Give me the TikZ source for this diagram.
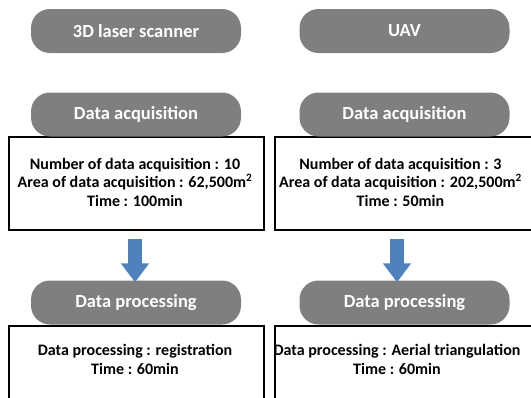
\documentclass[tikz,border=0pt]{standalone}
\usepackage{fontspec}
\setmainfont{Carlito}
\usetikzlibrary{arrows.meta}
\definecolor{pillgray}{RGB}{127,127,127}
\definecolor{arrowblue}{RGB}{79,129,189}
\tikzset{
  pill/.style={fill=pillgray, draw=none, rounded corners=19pt,
    minimum width=210pt, minimum height=44pt, inner sep=0pt,
    text=white, font=\bfseries\fontsize{18.5}{20}\selectfont},
  infobox/.style={draw=black, line width=1.2pt, fill=white, inner sep=0pt},
  infotext/.style={align=center, inner sep=0pt, text=black,
    font=\bfseries\fontsize{16}{18.5}\selectfont},
  flowarrow/.style={draw=arrowblue, line width=14pt,
    -{Triangle[width=27pt,length=19pt]}}
}
\begin{document}
\begin{tikzpicture}[x=1pt,y=-1pt]
\useasboundingbox (0,0) rectangle (531,397);
\clip (0,0) rectangle (531,397);

% info boxes (drawn first so the pills sit on their top edges)
\node[infobox, minimum width=255pt, minimum height=93pt] (acqL) at (136.5,183.5) {};
\node[infobox, minimum width=258pt, minimum height=93pt] (acqR) at (404,183.5) {};
\node[infobox, minimum width=255pt, minimum height=94pt] (procL) at (136.5,373) {};
\node[infobox, minimum width=258pt, minimum height=94pt] (procR) at (404,373) {};

% box texts
\node[infotext] (acqLtxt) at (135,182) {Number of data acquisition : 10\\Area of data acquisition : 62,500m\textsuperscript{2}\\Time : 100min};
\node[infotext] (acqRtxt) at (400.5,182) {Number of data acquisition : 3\\Area of data acquisition : 202,500m\textsuperscript{2}\\Time : 50min};
\node[infotext] (procLtxt) at (135,359.5) {Data processing : registration\\Time : 60min};
\node[infotext] (procRtxt) at (397,359.5) {Data processing : Aerial triangulation\\Time : 60min};

% header pills
\node[pill] (devL) at (136,31) {3D laser scanner};
\node[pill] (devR) at (404.5,31) {UAV};
\node[pill] (acqLh) at (136,114.5) {Data acquisition};
\node[pill] (acqRh) at (404.5,114.5) {Data acquisition};
\node[pill] (procLh) at (136,302.5) {Data processing};
\node[pill] (procRh) at (404.5,302.5) {Data processing};

% flow arrows
\draw[flowarrow] ([xshift=-1.5pt,yshift=-8pt]acqL.south) -- ([xshift=-1pt,yshift=-2pt]procLh.north);
\draw[flowarrow] ([xshift=-7pt,yshift=-8pt]acqR.south) -- ([xshift=-7.5pt,yshift=-2pt]procRh.north);
\end{tikzpicture}
\end{document}
